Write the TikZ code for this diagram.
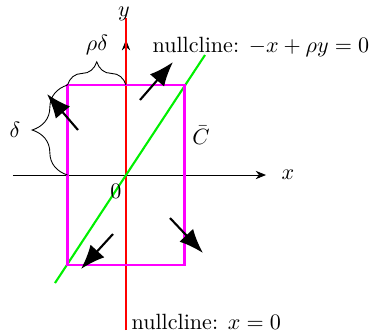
\documentclass[tikz,border=0pt]{standalone}
\usepackage{amsmath}
\usepackage{amssymb}
\usetikzlibrary{arrows.meta,decorations.pathreplacing,positioning}

\definecolor{boxmag}{RGB}{255,0,255}
\definecolor{ncred}{RGB}{255,0,0}
\definecolor{ncgreen}{RGB}{0,240,0}

\begin{document}
\begin{tikzpicture}[
    x=0.453pt, y=0.453pt,
    flow/.style={-{Latex[length=11pt,width=8.5pt]}, line width=0.95pt},
    axis/.style={-{Stealth[length=4.7pt,width=3.8pt]}, thin},
    bracelabel/.style={decorate, decoration={brace, amplitude=#1}},
    lbl/.style={inner sep=1pt}
]
    \useasboundingbox (-126,-158) rectangle (243,175);

    % Points
    \coordinate (O) at (0,0);
    \coordinate (xl) at (-113,0);
    \coordinate (xr) at (140,0);
    \coordinate (yt) at (0,135);
    \coordinate (rt) at (0,157);
    \coordinate (rb) at (0,-155);
    \coordinate (gb) at (-71,-108);
    \coordinate (gt) at (79,120);
    \coordinate (ll) at (-58.5,-90);
    \coordinate (ur) at (58.5,90);
    \coordinate (ul) at (-58.5,90);
    \coordinate (lo) at (-58.5,0);

    % Axes
    \draw[axis] (xl) -- (xr);
    \draw[axis] (O) -- (yt);

    % Nullclines
    \draw[ncred, line width=1.15pt] (rb) -- (rt);
    \draw[ncgreen, line width=0.95pt] (gb) -- (gt);

    % Box C
    \draw[boxmag, line width=1.15pt] (ll) rectangle (ur);

    % Braces
    \draw[bracelabel=10.5pt] (ul) -- (0,90);
    \draw[bracelabel=16pt] (lo) -- (ul);

    % Flow arrows
    \coordinate (a1s) at (-48,45);
    \coordinate (a1e) at (-79,81);
    \coordinate (a2s) at (14,75);
    \coordinate (a2e) at (47,113);
    \coordinate (a3s) at (44,-43);
    \coordinate (a3e) at (77,-78);
    \coordinate (a4s) at (-13,-59);
    \coordinate (a4e) at (-45,-94);
    \draw[flow] (a1s) -- (a1e);
    \draw[flow] (a2s) -- (a2e);
    \draw[flow] (a3s) -- (a3e);
    \draw[flow] (a4s) -- (a4e);

    % Labels
    \node[lbl] (ylab) at (-2,161) {$y$};
    \node[lbl] (xlab) at (162,0) {$x$};
    \node[lbl] (zero) at (-10,-16) {$0$};
    \node[lbl] (cbar) at (75,40) {$\bar{C}$};
    \node[lbl] (dlab) at (-111,45) {$\delta$};
    \node[lbl] (rdlab) at (-29,130) {$\rho\delta$};
    \node[lbl, anchor=west] (nc1) at (24,128) {nullcline: $-x+\rho y=0$};
    \node[lbl, anchor=west] (nc2) at (3,-147) {nullcline: $x=0$};
\end{tikzpicture}
\end{document}
